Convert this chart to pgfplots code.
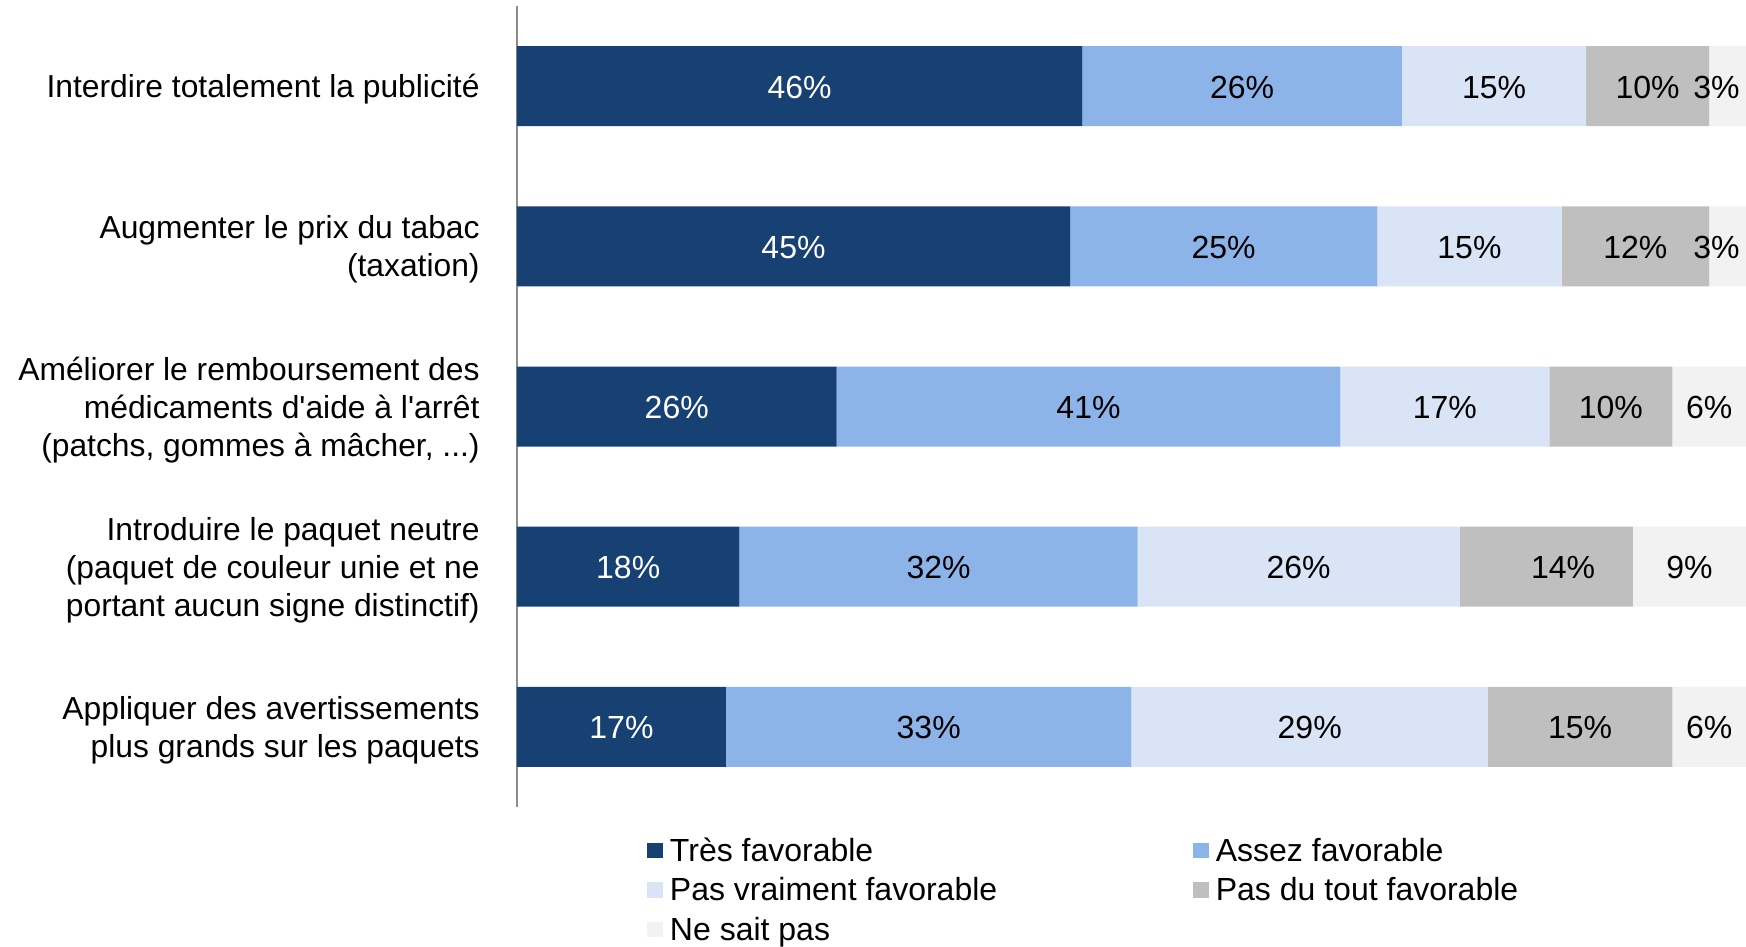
\documentclass[border=0pt]{standalone}
\usepackage{fontspec}
\setmainfont{Liberation Sans}
\usepackage{pgfplots}
\pgfplotsset{compat=1.18}
\definecolor{c1}{HTML}{174073}
\definecolor{c2}{HTML}{8DB4E8}
\definecolor{c3}{HTML}{D9E5F6}
\definecolor{c4}{HTML}{BFBFBF}
\definecolor{c5}{HTML}{F2F2F2}
\definecolor{axgray}{HTML}{8C8C8C}
\newcommand\lf{\fontsize{16pt}{18.9pt}\selectfont}
\newcommand\ylf{\fontsize{15.9pt}{19pt}\selectfont}
\pgfplotsset{sq/.style={legend image code/.code={\fill[##1] (0pt,1.6pt) rectangle (7.8pt,9.4pt); \path (11.3pt,0pt);}}}
\begin{document}
\begin{tikzpicture}
\begin{axis}[
  scale only axis,
  width=614.5pt, height=400.5pt,
  xbar stacked,
  bar width=40pt,
  xmin=0, xmax=100,
  ymin=-0.5, ymax=4.5,
  y dir=reverse,
  hide x axis,
  axis y line*=left,
  y axis line style={draw=axgray, line width=0.8pt},
  ytick={0,1,2,3,4},
  major tick length=0pt,
  yticklabels={
    {Interdire totalement la publicité},
    {Augmenter le prix du tabac\\(taxation)},
    {Améliorer le remboursement des\\médicaments d\textquotesingle aide à l\textquotesingle arrêt\\(patchs, gommes à mâcher, .{}.{}.)},
    {Introduire le paquet neutre\\(paquet de couleur unie et ne\\portant aucun signe distinctif)},
    {Appliquer des avertissements\\plus grands sur les paquets}},
  yticklabel style={font=\ylf, align=right, inner sep=0pt, xshift=-18.5pt, yshift=-1.6pt},
  point meta=explicit symbolic,
  nodes near coords,
  every node near coord/.append style={font=\lf, anchor=center, yshift=-0.5pt},
  legend columns=2,
  legend cell align=left,
  legend style={at={(0,0)}, anchor=north west, xshift=65pt, yshift=-16pt,
    draw=none, fill=none, inner sep=0pt, row sep=5.75pt,
    cells={anchor=base west},
    nodes={font=\lf, inner sep=0pt, text height=11pt, text depth=3pt},
    /tikz/every even column/.append style={column sep=98pt}},
]
\addplot[fill=c1, draw=none, sq, nodes near coords style={white}] coordinates {
  (46,0) [46\%] (45,1) [45\%] (26,2) [26\%] (18.1,3) [18\%] (17,4) [17\%]};
\addplot[fill=c2, draw=none, sq, nodes near coords style={black}] coordinates {
  (26,0) [26\%] (25,1) [25\%] (41,2) [41\%] (32.4,3) [32\%] (33,4) [33\%]};
\addplot[fill=c3, draw=none, sq, nodes near coords style={black}] coordinates {
  (15,0) [15\%] (15,1) [15\%] (17,2) [17\%] (26.2,3) [26\%] (29,4) [29\%]};
\addplot[fill=c4, draw=none, sq, nodes near coords style={black}] coordinates {
  (10,0) [10\%] (12,1) [12\%] (10,2) [10\%] (14.1,3) [\kern16.8pt 14\%] (15,4) [15\%]};
\addplot[fill=c5, draw=none, sq, nodes near coords style={black}] coordinates {
  (3,0) [\kern-11pt 3\%] (3,1) [\kern-11pt 3\%] (6,2) [6\%] (9.2,3) [9\%] (6,4) [6\%]};
\legend{Très favorable, Assez favorable, Pas vraiment favorable, Pas du tout favorable, Ne sait pas}
\end{axis}
\pgfresetboundingbox
\path[use as bounding box] (-258.5pt,-70pt) rectangle (614.5pt,403.5pt);
\end{tikzpicture}
\end{document}
